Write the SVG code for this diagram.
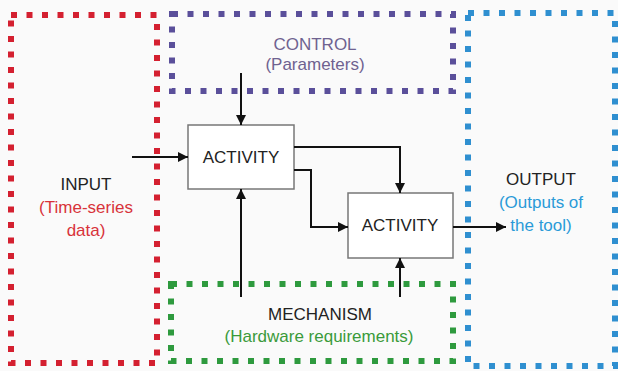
<svg xmlns="http://www.w3.org/2000/svg" width="618" height="371" viewBox="0 0 618 371">
<defs>
<marker id="ah" viewBox="0 0 10 10" refX="10" refY="5" markerWidth="10" markerHeight="10" markerUnits="userSpaceOnUse" orient="auto">
<path d="M0,0 L10,5 L0,10 z" fill="#111"/>
</marker>
</defs>
<style>
.frame{fill:none;stroke-width:6;stroke-dasharray:6 9.5}
.act{fill:#fff;stroke:#777;stroke-width:1.5}
.t{font-family:"Liberation Sans",Arial,sans-serif;font-size:17px;text-anchor:middle}
.c{fill:none;stroke:#111;stroke-width:2}
</style>
<rect width="618" height="371" fill="#fafafa"/>
<g id="input">
<rect class="frame" x="11" y="15" width="146" height="348" stroke="#d42030"/>
<text class="t" x="86" y="190" fill="#222">INPUT</text>
<text class="t" x="86" y="213" fill="#d8333a">(Time-series</text>
<text class="t" x="86" y="236" fill="#d8333a">data)</text>
</g>
<g id="control">
<rect class="frame" x="172" y="14" width="281" height="77" stroke="#5a4f9a"/>
<text class="t" x="315" y="50" fill="#6f6290">CONTROL</text>
<text class="t" x="315" y="70" fill="#6f6290">(Parameters)</text>
</g>
<g id="output">
<rect class="frame" x="468" y="13" width="147" height="353" stroke="#2f8fd0"/>
<text class="t" x="541" y="185" fill="#222">OUTPUT</text>
<text class="t" x="541" y="208" fill="#2a9ad8">(Outputs of</text>
<text class="t" x="541" y="231" fill="#2a9ad8">the tool)</text>
</g>
<g id="mechanism">
<rect class="frame" x="171" y="284" width="282" height="77" stroke="#2e9a3e"/>
<text class="t" x="320" y="320" fill="#222">MECHANISM</text>
<text class="t" x="319" y="342" fill="#3a9a3a">(Hardware requirements)</text>
</g>
<g id="activity1">
<rect class="act" x="188" y="125" width="106" height="64"/>
<text class="t" x="241" y="163" fill="#222">ACTIVITY</text>
</g>
<g id="activity2">
<rect class="act" x="348" y="193" width="105" height="65"/>
<text class="t" x="400" y="231" fill="#222">ACTIVITY</text>
</g>
<g id="connectors">
<path class="c" d="M132,157 H188" marker-end="url(#ah)"/>
<path class="c" d="M241,73 V125" marker-end="url(#ah)"/>
<path class="c" d="M294,147 H400 V193" marker-end="url(#ah)"/>
<path class="c" d="M294,170 H311 V227 H348" marker-end="url(#ah)"/>
<path class="c" d="M453,227 H506" marker-end="url(#ah)"/>
<path class="c" d="M241,297 V189" marker-end="url(#ah)"/>
<path class="c" d="M400,297 V258" marker-end="url(#ah)"/>
</g>
</svg>
